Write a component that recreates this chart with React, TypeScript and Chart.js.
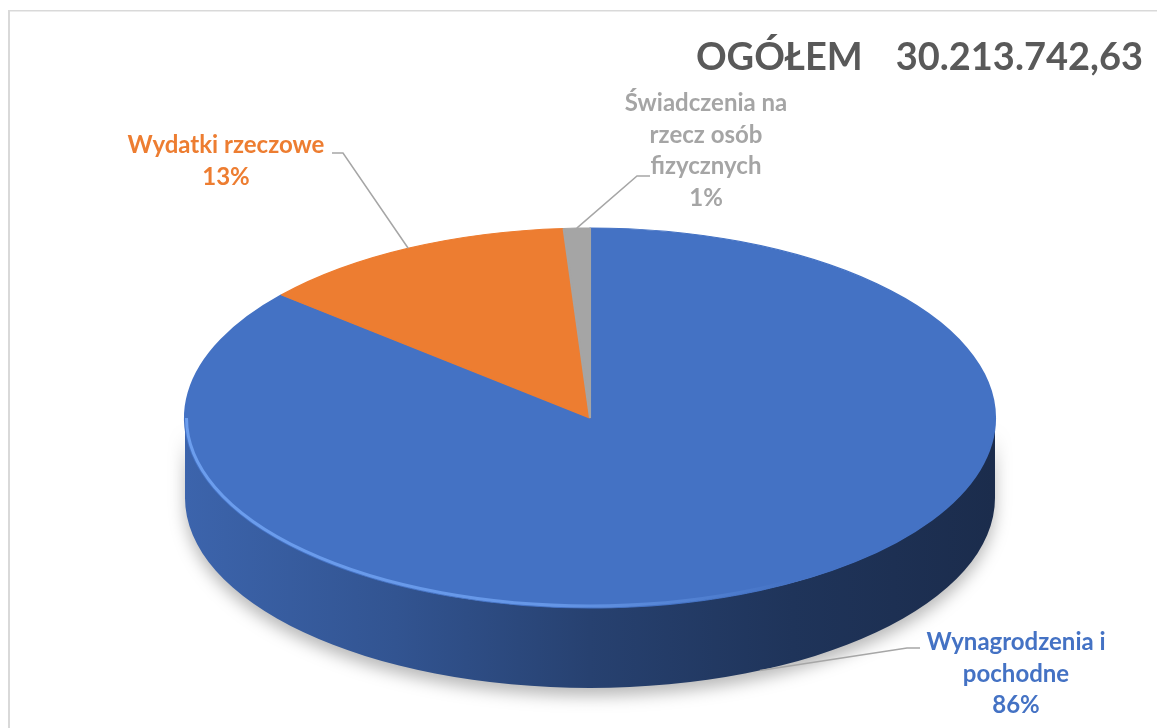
import React, { useEffect, useRef } from "react";
import { Chart, registerables } from "chart.js";

Chart.register(...registerables);

// ---------- data ----------
const categories = [
  "Wynagrodzenia i pochodne",
  "Wydatki rzeczowe",
  "Świadczenia na rzecz osób fizycznych",
];
const values = [26050000.0, 3850000.0, 313742.63];
const totalLabel = "OGÓŁEM";
const sliceColors = ["#4472c4", "#ed7d31", "#a5a5a5"];

// ---------- styling / layout ----------
const FONT = "Lato, 'Open Sans', sans-serif";
const LABEL_SIZE = 24;
const LABEL_LINE_H = 31.5;
const TITLE_SIZE = 38;
const DEPTH = 80;
const labelLayout = [
  { cx: 1016, baseline: 650, maxWidth: 195, elbow: [[920, 648], [907, 648]] },
  { cx: 226, baseline: 153, maxWidth: 240, elbow: [[332, 153], [343, 153]] },
  { cx: 706, baseline: 111, maxWidth: 178, elbow: [[650, 176], [637, 176]] },
];

function formatPL(v: number): string {
  const cents = Math.round(v * 100);
  const int = Math.floor(cents / 100);
  const frac = cents % 100;
  const intStr = String(int).replace(/\B(?=(\d{3})+(?!\d))/g, ".");
  return intStr + "," + String(frac).padStart(2, "0");
}

function hexToRgb(h: string) {
  const n = parseInt(h.slice(1), 16);
  return [(n >> 16) & 255, (n >> 8) & 255, n & 255];
}
function shade(h: string, f: number) {
  const [r, g, b] = hexToRgb(h);
  return `rgb(${Math.round(r * f)},${Math.round(g * f)},${Math.round(b * f)})`;
}

function wrap(ctx: CanvasRenderingContext2D, text: string, maxW: number) {
  const words = text.split(" ");
  const lines: string[] = [];
  let cur = "";
  for (const w of words) {
    const t = cur ? cur + " " + w : w;
    if (cur && ctx.measureText(t).width > maxW) {
      lines.push(cur);
      cur = w;
    } else cur = t;
  }
  if (cur) lines.push(cur);
  return lines;
}

function geom(chart: any) {
  const meta = chart.getDatasetMeta(0);
  const ca = chart.chartArea;
  const a0 = meta.data[0];
  return {
    meta,
    cx: a0.x,
    cy: a0.y,
    r: a0.outerRadius,
    A: ca.width / 2,
    B: ca.height / 2,
  };
}

function frontRanges(s: number, e: number) {
  const out: [number, number][] = [];
  for (let k = -1; k <= 1; k++) {
    const lo = Math.max(s, 2 * Math.PI * k);
    const hi = Math.min(e, 2 * Math.PI * k + Math.PI);
    if (hi > lo) out.push([lo, hi]);
  }
  return out;
}

const frame = {
  id: "frame",
  beforeDraw(chart: any) {
    const ctx = chart.ctx;
    ctx.save();
    ctx.fillStyle = "#ffffff";
    ctx.fillRect(0, 0, chart.width, chart.height);
    ctx.fillStyle = "#d9d9d9";
    ctx.fillRect(8, 10, 2, chart.height - 10);
    ctx.fillRect(8, 10, chart.width - 8, 1.5);
    ctx.restore();
  },
};

const pie3d = {
  id: "pie3d",
  beforeDatasetsDraw(chart: any) {
    const { meta, cx, cy, r, A, B } = geom(chart);
    const ctx = chart.ctx;
    ctx.save();
    meta.data.forEach((arc: any, i: number) => {
      frontRanges(arc.startAngle, arc.endAngle).forEach(([lo, hi]) => {
        ctx.beginPath();
        ctx.ellipse(cx, cy, A, B, 0, lo, hi, false);
        ctx.ellipse(cx, cy + DEPTH, A, B, 0, hi, lo, true);
        ctx.closePath();
        const g = ctx.createLinearGradient(cx - A, 0, cx + A, 0);
        const c = sliceColors[i];
        g.addColorStop(0, shade(c, 0.88));
        g.addColorStop(0.26, shade(c, 0.74));
        g.addColorStop(0.5, shade(c, 0.57));
        g.addColorStop(0.75, shade(c, 0.46));
        g.addColorStop(1, shade(c, 0.39));
        ctx.fillStyle = g;
        ctx.shadowColor = "rgba(0,0,0,0.28)";
        ctx.shadowBlur = 16;
        ctx.shadowOffsetY = 8;
        ctx.fill();
      });
    });
    ctx.restore();
    ctx.save();
    ctx.translate(cx, cy);
    ctx.scale(A / r, B / r);
    ctx.translate(-cx, -cy);
  },
  afterDatasetsDraw(chart: any) {
    const ctx = chart.ctx;
    ctx.restore();
    const { meta, cx, cy, A, B } = geom(chart);
    ctx.save();
    meta.data.forEach((arc: any) => {
      frontRanges(arc.startAngle, arc.endAngle).forEach(([lo, hi]) => {
        ctx.beginPath();
        ctx.ellipse(cx, cy, A - 1.5, B - 2, 0, lo, hi, false);
        const g = ctx.createLinearGradient(cx - A, 0, cx + A, 0);
        g.addColorStop(0, "rgba(110,160,240,0.95)");
        g.addColorStop(0.45, "rgba(110,160,240,0.8)");
        g.addColorStop(0.75, "rgba(110,160,240,0)");
        g.addColorStop(1, "rgba(110,160,240,0)");
        ctx.strokeStyle = g;
        ctx.lineWidth = 3;
        ctx.stroke();
      });
    });
    ctx.restore();
  },
};

const labels3d = {
  id: "labels3d",
  afterDraw(chart: any) {
    const { meta, cx, cy, A, B } = geom(chart);
    const ctx = chart.ctx;
    const total = values.reduce((a, b) => a + b, 0);
    ctx.save();
    // title
    ctx.font = `bold ${TITLE_SIZE}px ${FONT}`;
    ctx.fillStyle = "#595959";
    ctx.textAlign = "right";
    ctx.textBaseline = "alphabetic";
    const num = formatPL(total);
    ctx.fillText(num, 1143, 70);
    const nw = ctx.measureText(num).width;
    ctx.fillText(totalLabel, 1143 - nw - 33, 70);

    // data labels
    ctx.font = `bold ${LABEL_SIZE}px ${FONT}`;
    ctx.textAlign = "center";
    meta.data.forEach((arc: any, i: number) => {
      const L = labelLayout[i];
      const pct = Math.round((values[i] / total) * 100) + "%";
      const lines = [...wrap(ctx, categories[i], L.maxWidth), pct];
      ctx.fillStyle = sliceColors[i];
      lines.forEach((ln, j) => ctx.fillText(ln, L.cx, L.baseline + j * LABEL_LINE_H));
      const mid = (arc.startAngle + arc.endAngle) / 2;
      let px = cx + A * Math.cos(mid);
      let py = cy + B * Math.sin(mid);
      if (Math.sin(mid) > 0) py += DEPTH;
      ctx.beginPath();
      ctx.moveTo(L.elbow[0][0], L.elbow[0][1]);
      ctx.lineTo(L.elbow[1][0], L.elbow[1][1]);
      ctx.lineTo(px, py);
      ctx.strokeStyle = "#a6a6a6";
      ctx.lineWidth = 1.5;
      ctx.stroke();
    });
    ctx.restore();
  },
};

export default function App() {
  const ref = useRef<HTMLCanvasElement | null>(null);
  useEffect(() => {
    if (!ref.current) return;
    const chart = new Chart(ref.current, {
      type: "pie",
      data: {
        labels: categories,
        datasets: [
          {
            data: values,
            backgroundColor: sliceColors,
            borderColor: sliceColors,
            borderWidth: 1,
            hoverOffset: 0,
            clip: false as any,
          },
        ],
      },
      options: {
        animation: false,
        responsive: true,
        maintainAspectRatio: false,
        events: [],
        layout: { padding: { left: 185, right: 162, top: 228, bottom: 120 } },
        plugins: {
          legend: { display: false },
          tooltip: { enabled: false },
          title: { display: false },
        },
      },
      plugins: [frame, pie3d, labels3d],
    });
    return () => chart.destroy();
  }, []);
  return (
    <div style={{ position: "absolute", left: 0, top: 0, width: 1157, height: 728 }}>
      <canvas ref={ref} />
    </div>
  );
}
